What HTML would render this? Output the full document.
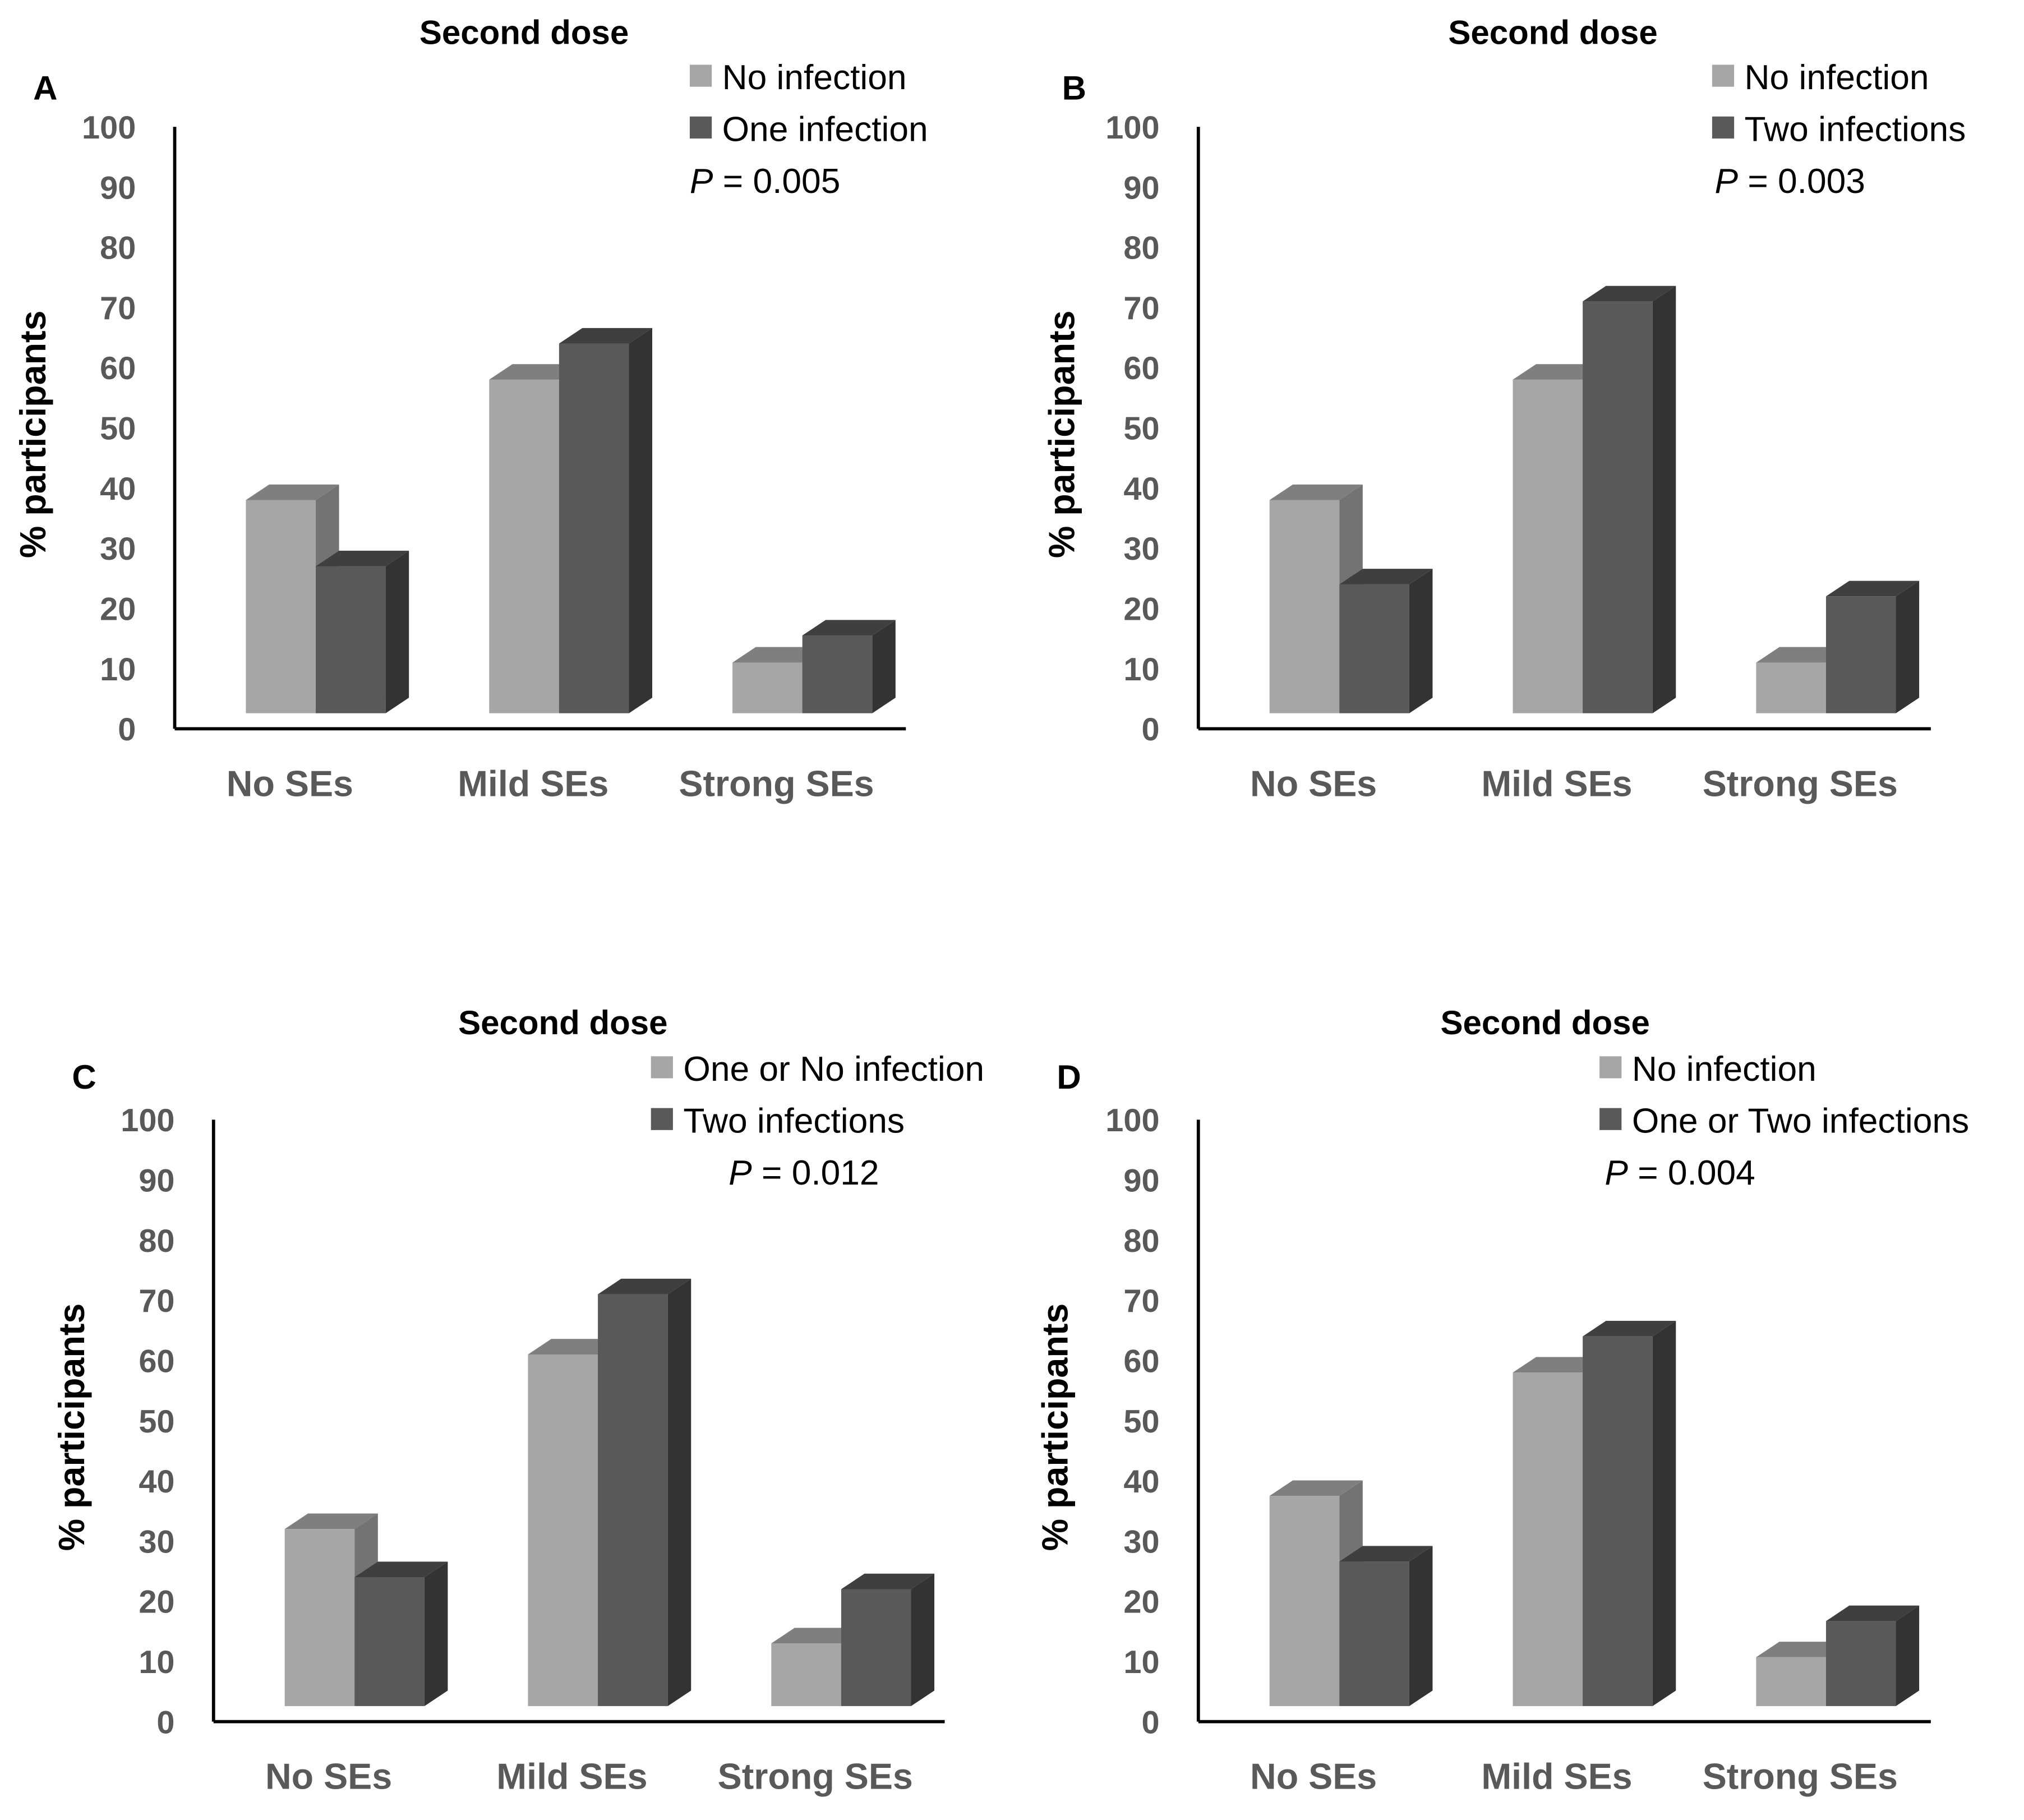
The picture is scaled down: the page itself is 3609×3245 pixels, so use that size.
<!DOCTYPE html>
<html><head><meta charset="utf-8">
<style>
html,body{margin:0;padding:0;background:#fff;}
svg{display:block;}
text{font-family:"Liberation Sans",sans-serif;}
</style></head>
<body>
<svg id="chart" width="3609" height="3245" viewBox="0 0 1564 1406" preserveAspectRatio="none" xmlns="http://www.w3.org/2000/svg"></svg>
<script>
const categories = ["No SEs", "Mild SEs", "Strong SEs"];
const ticks = [0,10,20,30,40,50,60,70,80,90,100];
const lightA = [38, 58, 11];
const darkA = [27, 64, 15.5];
const lightB = [38, 58, 11];
const darkB = [24, 71, 22];
const lightC = [32, 61, 13];
const darkC = [24, 71, 22];
const lightD = [37.5, 58, 10.7];
const darkD = [26.6, 64, 16.7];
const legendA = ["No infection", "One infection", "0.005"];
const legendB = ["No infection", "Two infections", "0.003"];
const legendC = ["One or No infection", "Two infections", "0.012"];
const legendD = ["No infection", "One or Two infections", "0.004"];

const NS = "http://www.w3.org/2000/svg";
const svg = document.getElementById("chart");
function mk(tag, attrs, parent){
  const e = document.createElementNS(NS, tag);
  for (const k in attrs) e.setAttribute(k, attrs[k]);
  (parent||svg).appendChild(e);
  return e;
}
const panels = [
  {id:"a", letter:"A", ax:135, base:563, top:98, light:lightA, dark:darkA, leg:legendA, lx:533, ly:59, px:533, titleX:405, titleY:25, lettX:35, lettY:68, ytx:25, xEnd:700},
  {id:"b", letter:"B", ax:926, base:563, top:98, light:lightB, dark:darkB, leg:legendB, lx:1323, ly:59, px:1325, titleX:1200, titleY:25, lettX:830, lettY:68, ytx:820, xEnd:1492},
  {id:"c", letter:"C", ax:165, base:1330, top:865, light:lightC, dark:darkC, leg:legendC, lx:503, ly:825, px:563, titleX:435, titleY:790, lettX:65, lettY:832, ytx:55, xEnd:730},
  {id:"d", letter:"D", ax:926, base:1330, top:865, light:lightD, dark:darkD, leg:legendD, lx:1236, ly:825, px:1240, titleX:1194, titleY:790, lettX:826, lettY:832, ytx:815, xEnd:1492}
];
const dx = 18, dy = 12, bw = 54, catGap = 188;
panels.forEach(p => {
  const g = mk("g", {});
  
  
  const y = v => p.base - (p.base - p.top) * v / 100;
  const floorY = p.base - 12;
  const t = mk("text", {x:p.titleX, y:p.titleY+9, "text-anchor":"middle", "font-size":26, "font-weight":"bold", fill:"#000"}, g);
  t.textContent = "Second dose";
  
  
  const L = mk("text", {x:p.lettX, y:p.lettY+9, "text-anchor":"middle", "font-size":26, "font-weight":"bold", fill:"#000"}, g);
  L.textContent = p.letter;
  
  
  const ya = mk("line", {x1:p.ax, y1:p.top, x2:p.ax, y2:p.base, stroke:"#000", "stroke-width":2.5}, g);
  
  
  const xa = mk("line", {x1:p.ax, y1:p.base, x2:p.xEnd, y2:p.base, stroke:"#000", "stroke-width":2.5}, g);
  
  
  ticks.forEach(tv => {
    const tl = mk("text", {x:p.ax-30, y:y(tv)+9, "text-anchor":"end", "font-size":25, "font-weight":"bold", fill:"#595959"}, g);
    tl.textContent = tv;
    
    
  });
  const yt = mk("text", {x:0, y:0, "text-anchor":"middle", "font-size":28, "font-weight":"bold", fill:"#000", transform:`translate(${p.ytx+10},${(p.top+p.base)/2 + 5}) rotate(-90)`}, g);
  yt.textContent = "% participants";
  
  
  categories.forEach((c, i) => {
    const x0 = p.ax + 55 + i * catGap;
    [[p.light[i], "#a6a6a6", "#7f7f7f", "#737373", "light"], [p.dark[i], "#595959", "#3f3f3f", "#333333", "dark"]].forEach((s, j) => {
      const xl = x0 + j * bw, xr = xl + bw, yv = y(s[0]);
      const bg = mk("g", {}, g);
      
      
      mk("rect", {x:xl, y:yv, width:bw, height:floorY - yv, fill:s[1]}, bg);
      mk("polygon", {points:`${xl},${yv} ${xl+dx},${yv-dy} ${xr+dx},${yv-dy} ${xr},${yv}`, fill:s[2]}, bg);
      mk("polygon", {points:`${xr},${yv} ${xr+dx},${yv-dy} ${xr+dx},${floorY-dy} ${xr},${floorY}`, fill:s[3]}, bg);
    });
    const cl = mk("text", {x:x0 + bw - 20, y:p.base + 52, "text-anchor":"middle", "font-size":28, "font-weight":"bold", fill:"#595959"}, g);
    cl.textContent = c;
    
    
  });
  [["#a6a6a6", p.leg[0]], ["#595959", p.leg[1]]].forEach((e, k) => {
    const lg = mk("g", {}, g);
    
    
    mk("rect", {x:p.lx, y:p.ly + k*40 - 9, width:17, height:17, fill:e[0]}, lg);
    const lt = mk("text", {x:p.lx + 25, y:p.ly + k*40 + 10, "font-size":27, fill:"#000"}, lg);
    lt.textContent = e[1];
  });
  const pt = mk("text", {x:p.px, y:p.ly + 90, "font-size":27, fill:"#000"}, g);
  pt.innerHTML = '<tspan font-style="italic">P</tspan> = ' + p.leg[2];
  
  
});
</script>
</body></html>
